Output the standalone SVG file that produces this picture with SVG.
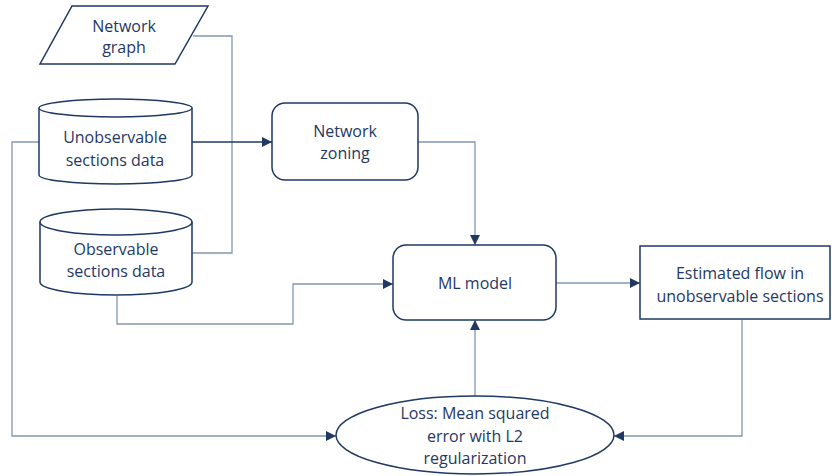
<svg xmlns="http://www.w3.org/2000/svg" width="832" height="476" viewBox="0 0 832 476">
<defs>
<marker id="arr" viewBox="0 0 10 10" refX="10" refY="5" markerWidth="10" markerHeight="10" markerUnits="userSpaceOnUse" orient="auto">
<path d="M0,0 L10,5 L0,10 z" fill="#1f3864"/>
</marker>
<style>
.shape{fill:#fff;stroke:#1f3864;stroke-width:1.5}
.conn{fill:none;stroke:#8497b0;stroke-width:1.3}
.dark{stroke:#1f3864}
text{font-family:"Open Sans","Noto Sans","Liberation Sans",sans-serif;font-size:16px;fill:#1f3864;text-anchor:middle}
</style>
</defs>
<rect width="832" height="476" fill="#fff"/>
<g id="connectors">
<polyline class="conn" points="193,36 232,36 232,253 192,253"/>
<line class="conn dark" x1="192" y1="142" x2="272" y2="142" marker-end="url(#arr)"/>
<polyline class="conn" points="39,142 12,142 12,436 336,436" marker-end="url(#arr)"/>
<polyline class="conn" points="418,142 475,142 475,245" marker-end="url(#arr)"/>
<polyline class="conn" points="117,296 117,324 293,324 293,284 393,284" marker-end="url(#arr)"/>
<line class="conn" x1="556" y1="283" x2="640" y2="283" marker-end="url(#arr)"/>
<polyline class="conn" points="742,320 742,436 614,436" marker-end="url(#arr)"/>
<line class="conn" x1="475" y1="396" x2="475" y2="320" marker-end="url(#arr)"/>
</g>
<g id="network-graph">
<polygon class="shape" points="72,6 208,6 175,64 40,64"/>
<text x="124" y="32">Network</text>
<text x="124" y="53">graph</text>
</g>
<g id="unobservable-data">
<path class="shape" d="M39,108 L39,175 A76.5,9 0 0 0 192,175 L192,108"/>
<ellipse class="shape" cx="115.5" cy="108" rx="76.5" ry="9"/>
<text x="115" y="143">Unobservable</text>
<text x="115" y="166">sections data</text>
</g>
<g id="observable-data">
<path class="shape" d="M40,222 L40,282 A76,13 0 0 0 192,282 L192,222"/>
<ellipse class="shape" cx="116" cy="222" rx="76" ry="13"/>
<text x="116" y="255">Observable</text>
<text x="116" y="277">sections data</text>
</g>
<g id="network-zoning">
<rect class="shape" x="272" y="103" width="146" height="77" rx="13"/>
<text x="345" y="137">Network</text>
<text x="345" y="159">zoning</text>
</g>
<g id="ml-model">
<rect class="shape" x="393" y="245" width="163" height="75" rx="13"/>
<text x="475" y="289">ML model</text>
</g>
<g id="estimated-flow">
<rect class="shape" x="640" y="246" width="190" height="73"/>
<text x="740" y="279">Estimated flow in</text>
<text x="740" y="302">unobservable sections</text>
</g>
<g id="loss">
<ellipse class="shape" cx="475" cy="435" rx="139" ry="39"/>
<text x="475" y="419">Loss: Mean squared</text>
<text x="475" y="442">error with L2</text>
<text x="475" y="464">regularization</text>
</g>
</svg>
